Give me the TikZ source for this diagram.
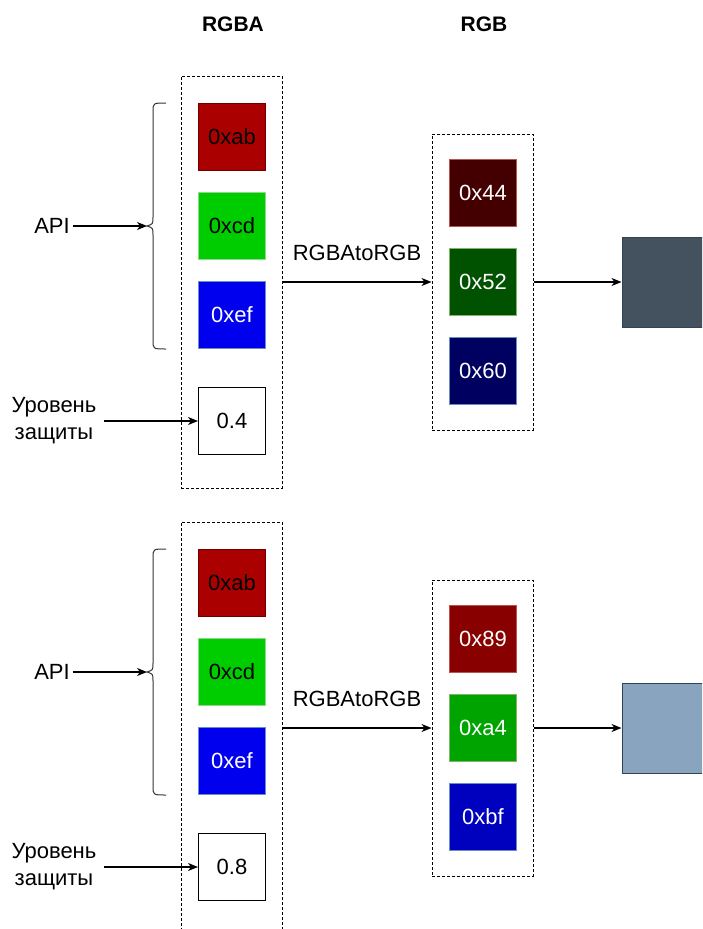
\documentclass[tikz,border=0pt]{standalone}
\usepackage{fontspec}
\setmainfont{Liberation Sans}
\usetikzlibrary{arrows.meta}

\definecolor{inR}{HTML}{AB0000}
\definecolor{inG}{HTML}{00CD00}
\definecolor{inB}{HTML}{0000EF}
\definecolor{inRline}{HTML}{6F0000}
\definecolor{inGline}{HTML}{8FD88F}
\definecolor{inBline}{HTML}{6C8EBF}
\definecolor{outRline}{HTML}{B85450}
\definecolor{outGline}{HTML}{82B366}
\definecolor{outBline}{HTML}{6C8EBF}
\definecolor{sqline}{HTML}{314354}

\tikzset{
  lbl/.style={font=\fontsize{22}{27}\selectfont, inner sep=0pt},
  headtext/.style={font=\fontsize{21}{25}\selectfont\bfseries},
  chan/.style={draw, minimum size=67pt, inner sep=0pt, line width=1pt,
    font=\fontsize{22}{27}\selectfont},
  group/.style={draw, dash pattern=on 3pt off 2pt, line width=1pt,
    inner sep=0pt},
  link/.style={-{Stealth[length=10pt,width=8pt,inset=3pt]}, line width=1.2pt},
}

% one conversion panel: prefix, vertical shift, alpha value,
% output R/G/B as hex digits, output labels
\newcommand\panel[9]{%
\begin{scope}[yshift=-#2pt]
  \definecolor{#1r}{HTML}{#40000}
  \definecolor{#1g}{HTML}{00#500}
  \definecolor{#1b}{HTML}{0000#6}
  \definecolor{#1o}{HTML}{#4#5#6}
  % RGBA input group
  \node[group, minimum width=101pt, minimum height=412pt] (#1in) at (231.5,282) {};
  \node[chan, fill=inR, draw=inRline] (#1ca) at (232,137) {0xab};
  \node[chan, fill=inG, draw=inGline] (#1cb) at (232,226) {0xcd};
  \node[chan, fill=inB, draw=inBline, text=white] (#1cc) at (232,315) {0xef};
  \node[chan, fill=white, draw=black] (#1al) at (232,421) {#3};
  % brace over the colour channels
  \coordinate (#1tip) at (147,226);
  \draw[line width=1pt, black!80]
    (166,103) .. controls (153,103) .. (153,112) -- (153,217)
    .. controls (153,224) .. (#1tip) .. controls (153,228) .. (153,235)
    -- (153,340) .. controls (153,349) .. (166,349);
  \node[lbl] (#1api) at (52,226) {API};
  \draw[link] ([xshift=3pt]#1api.east) -- (#1tip);
  \node[lbl, align=center] (#1lvl) at (54,421) {Уровень\\защиты};
  \draw[link] ([xshift=7pt]#1lvl.east) -- (#1al.west);
  % RGB output group
  \node[group, minimum width=101pt, minimum height=296pt] (#1rgb) at (482.5,282) {};
  \node[chan, fill=#1r, draw=outRline, text=white] (#1oa) at (483,193) {#7};
  \node[chan, fill=#1g, draw=outGline, text=white] (#1ob) at (483,282) {#8};
  \node[chan, fill=#1b, draw=outBline, text=white] (#1oc) at (483,371) {#9};
  \draw[link] (#1in.east) -- node[lbl, midway, yshift=29pt] {RGBAtoRGB} (#1rgb.west);
  % resulting colour
  \node[draw=sqline, line width=1pt, fill=#1o, minimum width=90pt,
    minimum height=90pt, inner sep=0pt] (#1sq) at (667,282) {};
  \draw[link] (#1rgb.east) -- (#1sq.west);
\end{scope}}

\begin{document}
\begin{tikzpicture}[x=1pt, y=-1pt]
  \useasboundingbox (0,0) rectangle (702,929);
  \clip (0,0) rectangle (702,929);
  \node[headtext] (hin) at (233,24) {RGBA};
  \node[headtext] (hout) at (484,24) {RGB};
  \panel{t}{0}{0.4}{44}{52}{60}{0x44}{0x52}{0x60}
  \panel{u}{446}{0.8}{89}{A4}{BF}{0x89}{0xa4}{0xbf}
\end{tikzpicture}
\end{document}
